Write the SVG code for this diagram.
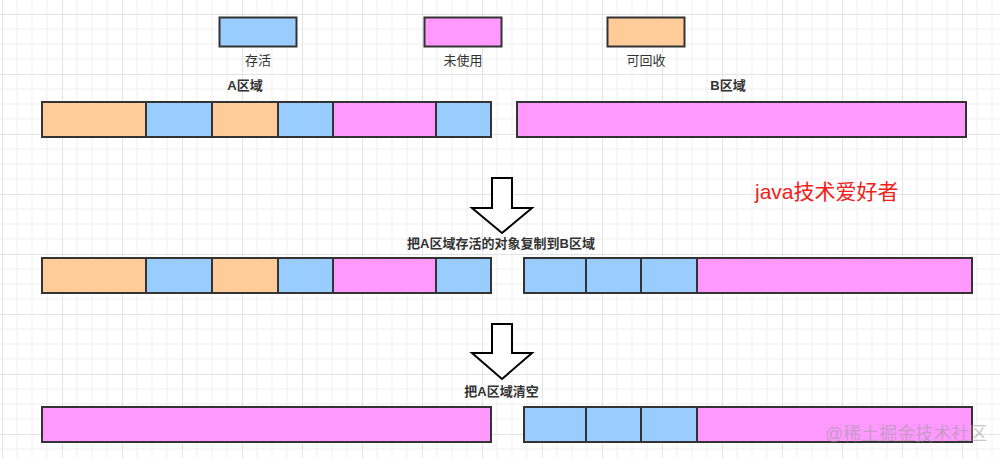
<svg xmlns="http://www.w3.org/2000/svg" width="1000" height="458" viewBox="0 0 1000 458">
<defs>
<pattern id="grid" x="2" y="14" width="60" height="60" patternUnits="userSpaceOnUse">
<path d="M15 0V60M30 0V60M45 0V60M0 15H60M0 30H60M0 45H60" stroke="#efefef" stroke-width="1" fill="none"/>
<path d="M0.5 0V60M0 0.5H60" stroke="#e4e4e4" stroke-width="1" fill="none"/>
</pattern>
<style>
.seg{stroke:#333333;stroke-width:2}
.live{fill:#99CCFF}
.free{fill:#FF99FF}
.dead{fill:#FFCC99}
.lbl{font-family:'Liberation Sans','Noto Sans CJK SC',sans-serif;font-size:13px;fill:#333333;text-anchor:middle}
.b{font-weight:bold}
.arrow{fill:#ffffff;stroke:#000000;stroke-width:2;stroke-linejoin:miter}
</style>
</defs>
<rect width="1000" height="458" fill="#ffffff"/>
<rect width="1000" height="458" fill="url(#grid)"/>

<g id="legend-live">
<rect class="seg live" x="219.5" y="17.5" width="77" height="29"/>
<text class="lbl" x="258" y="64.5">存活</text>
</g>
<g id="legend-free">
<rect class="seg free" x="424.5" y="17.5" width="77" height="29"/>
<text class="lbl" x="463" y="64.5">未使用</text>
</g>
<g id="legend-dead">
<rect class="seg dead" x="607.5" y="17.5" width="77" height="29"/>
<text class="lbl" x="646" y="64.5">可回收</text>
</g>

<g id="row1-A">
<text class="lbl b" x="245" y="89.5">A区域</text>
<rect class="seg dead" x="42" y="102" width="104" height="35"/>
<rect class="seg live" x="146" y="102" width="66" height="35"/>
<rect class="seg dead" x="212" y="102" width="66" height="35"/>
<rect class="seg live" x="278" y="102" width="55" height="35"/>
<rect class="seg free" x="333" y="102" width="103" height="35"/>
<rect class="seg live" x="436" y="102" width="55" height="35"/>
</g>
<g id="row1-B">
<text class="lbl b" x="728" y="89.5">B区域</text>
<rect class="seg free" x="517" y="102" width="449" height="35"/>
</g>

<g id="row2-A">
<rect class="seg dead" x="42" y="258" width="104" height="35"/>
<rect class="seg live" x="146" y="258" width="66" height="35"/>
<rect class="seg dead" x="212" y="258" width="66" height="35"/>
<rect class="seg live" x="278" y="258" width="55" height="35"/>
<rect class="seg free" x="333" y="258" width="103" height="35"/>
<rect class="seg live" x="436" y="258" width="55" height="35"/>
</g>
<g id="row2-B">
<rect class="seg live" x="524" y="258" width="62" height="35"/>
<rect class="seg live" x="586" y="258" width="55" height="35"/>
<rect class="seg live" x="641" y="258" width="56" height="35"/>
<rect class="seg free" x="697" y="258" width="275" height="35"/>
</g>

<g id="row3-A">
<rect class="seg free" x="42" y="407" width="449" height="35"/>
</g>
<g id="row3-B">
<rect class="seg live" x="524" y="407" width="62" height="35"/>
<rect class="seg live" x="586" y="407" width="55" height="35"/>
<rect class="seg live" x="641" y="407" width="56" height="35"/>
<rect class="seg free" x="697" y="407" width="275" height="35"/>
</g>

<g id="connectors">
<g id="step1">
<path class="arrow" d="M492 178H512V208H532L502 233L472 208H492Z"/>
<text class="lbl b" x="501" y="247.5">把A区域存活的对象复制到B区域</text>
</g>
<g id="step2">
<path class="arrow" d="M492 324H512V353H532L502 379L472 353H492Z"/>
<text class="lbl b" x="501.5" y="396">把A区域清空</text>
</g>
</g>

<g id="note">
<text x="755" y="199" font-family="'Liberation Sans','Noto Sans CJK SC',sans-serif" font-size="21" fill="#f0201a">java技术爱好者</text>
</g>
<g id="watermark">
<text x="825" y="440" font-family="'Liberation Sans','Noto Sans CJK SC',sans-serif" font-size="18" fill="#9a9a9a" opacity="0.55">@稀土掘金技术社区</text>
</g>
</svg>
